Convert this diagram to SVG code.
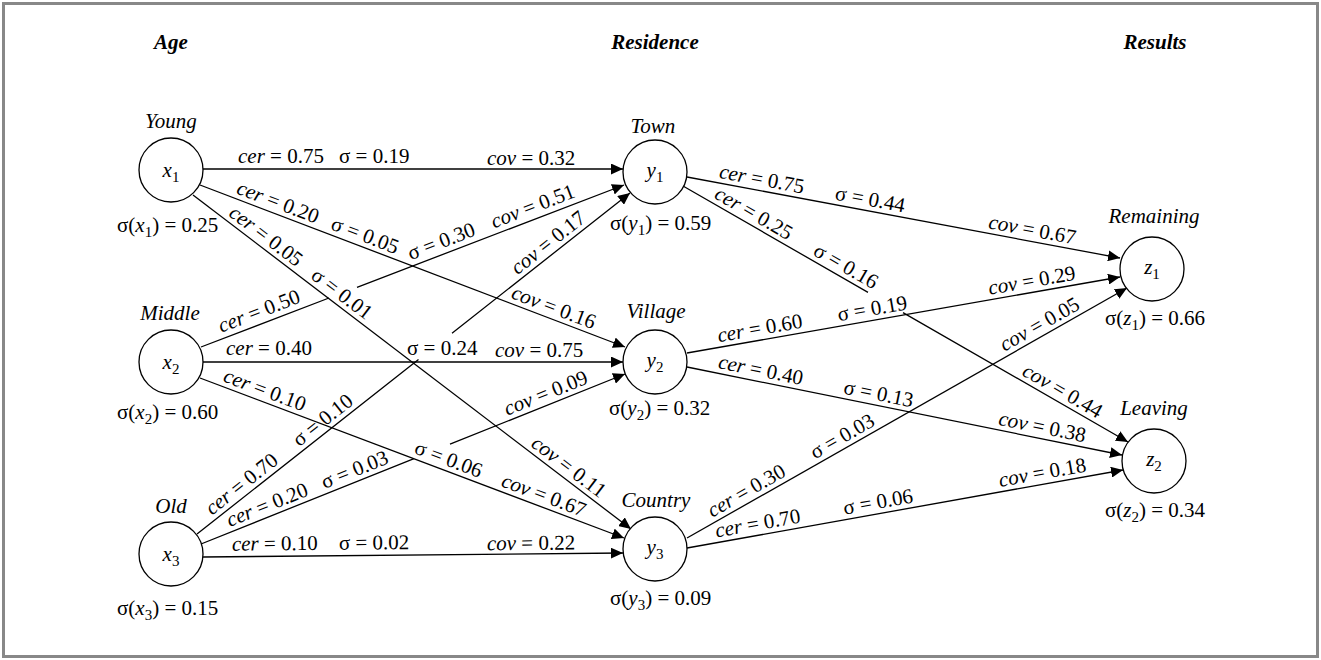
<svg xmlns="http://www.w3.org/2000/svg" xmlns:xlink="http://www.w3.org/1999/xlink" width="1321" height="660" viewBox="0 0 1321 660">
  <style>
    .t { font-family: "Liberation Serif", "Times New Roman", serif; font-size: 21px; fill: #000; }
    .i { font-style: italic; }
    .h { font-style: italic; font-weight: bold; }
    .e { fill: none; stroke: #000; stroke-width: 1.3; }
    .a { marker-end: url(#arrow); }
    .n { fill: #fff; stroke: #000; stroke-width: 1.3; }
    .s { font-size: 15px; }
  </style>
  <defs>
    <marker id="arrow" markerUnits="userSpaceOnUse" markerWidth="13" markerHeight="11" refX="12" refY="5.5" orient="auto">
      <path d="M0,0 L12,5.5 L0,11 z" fill="#000"/>
    </marker>
    <!-- guide lines for edge labels -->
    <path id="gE1" d="M203,169 L623,169"/>
    <path id="gE2" d="M200,185 L625,347"/>
    <path id="gE3" d="M193,195 L631,529"/>
    <path id="gE4" d="M201,347 L624,185"/>
    <path id="gE5" d="M203,362 L623,362"/>
    <path id="gE6" d="M200,378 L624,538"/>
    <path id="gE7" d="M197,534 L630,193"/>
    <path id="gE8" d="M201,544 L625,374"/>
    <path id="gE9" d="M203,557 L623,553"/>
    <path id="gF1" d="M687,177 L1120,258"/>
    <path id="gF2" d="M683,186 L1128,442"/>
    <path id="gF3" d="M687,353 L1120,277"/>
    <path id="gF4" d="M687,367 L1122,455"/>
    <path id="gF5" d="M687,538 L1127,288"/>
    <path id="gF6" d="M687,548 L1123,470"/>
  </defs>

  <rect x="0" y="0" width="1321" height="660" fill="#fff"/>
  <rect x="3.5" y="3.5" width="1314" height="653" fill="none" stroke="#888" stroke-width="3"/>

  <!-- column headings -->
  <g id="headings" class="t h" text-anchor="middle">
    <text x="171" y="49">Age</text>
    <text x="655" y="49">Residence</text>
    <text x="1155" y="49">Results</text>
  </g>

  <!-- connectors -->
  <g id="connectors">
    <path class="e a" d="M203,169 L623,169"/>
    <path class="e a" d="M200,185 L625,347"/>
    <path class="e a" d="M193,195 L631,529"/>
    <path class="e a" d="M201,347 L329,298 M357,287.3 L624,185"/>
    <path class="e a" d="M203,362 L623,362"/>
    <path class="e a" d="M200,378 L624,538"/>
    <path class="e a" d="M197,534 L418.5,359.6 M452,333.2 L630,193"/>
    <path class="e a" d="M201,544 L414,458.6 M450,444.2 L625,374"/>
    <path class="e a" d="M203,557 L623,553"/>
    <path class="e a" d="M687,177 L1120,258"/>
    <path class="e a" d="M683,186 L868,292.4 M903,312.6 L1128,442"/>
    <path class="e a" d="M687,353 L1120,277"/>
    <path class="e a" d="M687,367 L1122,455"/>
    <path class="e a" d="M687,538 L1127,288"/>
    <path class="e a" d="M687,548 L1123,470"/>
  </g>

  <!-- connector labels -->
  <g id="edge-labels" class="t">
    <text><textPath href="#gE1" startOffset="35"><tspan class="i" dy="-6">cer</tspan> = 0.75</textPath></text>
    <text><textPath href="#gE1" startOffset="136"><tspan dy="-6">σ = 0.19</tspan></textPath></text>
    <text><textPath href="#gE1" startOffset="284"><tspan class="i" dy="-4">cov</tspan> = 0.32</textPath></text>

    <text><textPath href="#gE2" startOffset="36"><tspan class="i" dy="-5">cer</tspan> = 0.20</textPath></text>
    <text><textPath href="#gE2" startOffset="137"><tspan dy="-5">σ = 0.05</tspan></textPath></text>
    <text><textPath href="#gE2" startOffset="330"><tspan class="i" dy="-5">cov</tspan> = 0.16</textPath></text>

    <text><textPath href="#gE3" startOffset="40"><tspan class="i" dy="-5">cer</tspan> = 0.05</textPath></text>
    <text><textPath href="#gE3" startOffset="143"><tspan dy="-5">σ = 0.01</tspan></textPath></text>
    <text><textPath href="#gE3" startOffset="420"><tspan class="i" dy="-5">cov</tspan> = 0.11</textPath></text>

    <text><textPath href="#gE4" startOffset="24"><tspan class="i" dy="-6">cer</tspan> = 0.50</textPath></text>
    <text><textPath href="#gE4" startOffset="227"><tspan dy="-6">σ = 0.30</tspan></textPath></text>
    <text><textPath href="#gE4" startOffset="316"><tspan class="i" dy="-6">cov</tspan> = 0.51</textPath></text>

    <text><textPath href="#gE5" startOffset="23"><tspan class="i" dy="-7">cer</tspan> = 0.40</textPath></text>
    <text><textPath href="#gE5" startOffset="204"><tspan dy="-7">σ = 0.24</tspan></textPath></text>
    <text><textPath href="#gE5" startOffset="292"><tspan class="i" dy="-5">cov</tspan> = 0.75</textPath></text>

    <text><textPath href="#gE6" startOffset="22"><tspan class="i" dy="-5">cer</tspan> = 0.10</textPath></text>
    <text><textPath href="#gE6" startOffset="226"><tspan dy="-5">σ = 0.06</tspan></textPath></text>
    <text><textPath href="#gE6" startOffset="319"><tspan class="i" dy="-5">cov</tspan> = 0.67</textPath></text>

    <text><textPath href="#gE7" startOffset="23"><tspan class="i" dy="-5">cer</tspan> = 0.70</textPath></text>
    <text><textPath href="#gE7" startOffset="134"><tspan dy="-5">σ = 0.10</tspan></textPath></text>
    <text><textPath href="#gE7" startOffset="412"><tspan class="i" dy="-5">cov</tspan> = 0.17</textPath></text>

    <text><textPath href="#gE8" startOffset="33"><tspan class="i" dy="-5">cer</tspan> = 0.20</textPath></text>
    <text><textPath href="#gE8" startOffset="135"><tspan dy="-5">σ = 0.03</tspan></textPath></text>
    <text><textPath href="#gE8" startOffset="332"><tspan class="i" dy="-5">cov</tspan> = 0.09</textPath></text>

    <text><textPath href="#gE9" startOffset="29"><tspan class="i" dy="-6">cer</tspan> = 0.10</textPath></text>
    <text><textPath href="#gE9" startOffset="136"><tspan dy="-6">σ = 0.02</tspan></textPath></text>
    <text><textPath href="#gE9" startOffset="284"><tspan class="i" dy="-4">cov</tspan> = 0.22</textPath></text>

    <text><textPath href="#gF1" startOffset="31"><tspan class="i" dy="-5">cer</tspan> = 0.75</textPath></text>
    <text><textPath href="#gF1" startOffset="149"><tspan dy="-5">σ = 0.44</tspan></textPath></text>
    <text><textPath href="#gF1" startOffset="305"><tspan class="i" dy="-5">cov</tspan> = 0.67</textPath></text>

    <text><textPath href="#gF2" startOffset="32"><tspan class="i" dy="-5">cer</tspan> = 0.25</textPath></text>
    <text><textPath href="#gF2" startOffset="146"><tspan dy="-5">σ = 0.16</tspan></textPath></text>
    <text><textPath href="#gF2" startOffset="387"><tspan class="i" dy="-5">cov</tspan> = 0.44</textPath></text>

    <text><textPath href="#gF3" startOffset="33"><tspan class="i" dy="-5">cer</tspan> = 0.60</textPath></text>
    <text><textPath href="#gF3" startOffset="155"><tspan dy="-5">σ = 0.19</tspan></textPath></text>
    <text><textPath href="#gF3" startOffset="308"><tspan class="i" dy="-5">cov</tspan> = 0.29</textPath></text>

    <text><textPath href="#gF4" startOffset="30"><tspan class="i" dy="-5">cer</tspan> = 0.40</textPath></text>
    <text><textPath href="#gF4" startOffset="158"><tspan dy="-5">σ = 0.13</tspan></textPath></text>
    <text><textPath href="#gF4" startOffset="316"><tspan class="i" dy="-5">cov</tspan> = 0.38</textPath></text>

    <text><textPath href="#gF5" startOffset="32"><tspan class="i" dy="-5">cer</tspan> = 0.30</textPath></text>
    <text><textPath href="#gF5" startOffset="150"><tspan dy="-5">σ = 0.03</tspan></textPath></text>
    <text><textPath href="#gF5" startOffset="368"><tspan class="i" dy="-5">cov</tspan> = 0.05</textPath></text>

    <text><textPath href="#gF6" startOffset="31"><tspan class="i" dy="-5">cer</tspan> = 0.70</textPath></text>
    <text><textPath href="#gF6" startOffset="161"><tspan dy="-5">σ = 0.06</tspan></textPath></text>
    <text><textPath href="#gF6" startOffset="319"><tspan class="i" dy="-5">cov</tspan> = 0.18</textPath></text>
  </g>

  <!-- nodes -->
  <g id="node-x1">
    <circle class="n" cx="171" cy="170" r="32"/>
    <text class="t" x="171" y="177" text-anchor="middle"><tspan class="i">x</tspan><tspan class="s" dy="5">1</tspan></text>
    <text class="t i" x="171" y="128" text-anchor="middle">Young</text>
    <text class="t" x="117" y="232">σ(<tspan class="i">x</tspan><tspan class="s" dy="5">1</tspan><tspan dy="-5">) = 0.25</tspan></text>
  </g>
  <g id="node-x2">
    <circle class="n" cx="171" cy="362" r="32"/>
    <text class="t" x="171" y="369" text-anchor="middle"><tspan class="i">x</tspan><tspan class="s" dy="5">2</tspan></text>
    <text class="t i" x="170" y="320" text-anchor="middle">Middle</text>
    <text class="t" x="117" y="419">σ(<tspan class="i">x</tspan><tspan class="s" dy="5">2</tspan><tspan dy="-5">) = 0.60</tspan></text>
  </g>
  <g id="node-x3">
    <circle class="n" cx="171" cy="554" r="32"/>
    <text class="t" x="171" y="561" text-anchor="middle"><tspan class="i">x</tspan><tspan class="s" dy="5">3</tspan></text>
    <text class="t i" x="171" y="513" text-anchor="middle">Old</text>
    <text class="t" x="117" y="615">σ(<tspan class="i">x</tspan><tspan class="s" dy="5">3</tspan><tspan dy="-5">) = 0.15</tspan></text>
  </g>
  <g id="node-y1">
    <circle class="n" cx="655" cy="172" r="32"/>
    <text class="t" x="655" y="177" text-anchor="middle"><tspan class="i">y</tspan><tspan class="s" dy="5">1</tspan></text>
    <text class="t i" x="653" y="133" text-anchor="middle">Town</text>
    <text class="t" x="610" y="230">σ(<tspan class="i">y</tspan><tspan class="s" dy="5">1</tspan><tspan dy="-5">) = 0.59</tspan></text>
  </g>
  <g id="node-y2">
    <circle class="n" cx="655" cy="362" r="32"/>
    <text class="t" x="655" y="367" text-anchor="middle"><tspan class="i">y</tspan><tspan class="s" dy="5">2</tspan></text>
    <text class="t i" x="656" y="318" text-anchor="middle">Village</text>
    <text class="t" x="609" y="415">σ(<tspan class="i">y</tspan><tspan class="s" dy="5">2</tspan><tspan dy="-5">) = 0.32</tspan></text>
  </g>
  <g id="node-y3">
    <circle class="n" cx="655" cy="549" r="32"/>
    <text class="t" x="655" y="554" text-anchor="middle"><tspan class="i">y</tspan><tspan class="s" dy="5">3</tspan></text>
    <text class="t i" x="656" y="507" text-anchor="middle">Country</text>
    <text class="t" x="610" y="605">σ(<tspan class="i">y</tspan><tspan class="s" dy="5">3</tspan><tspan dy="-5">) = 0.09</tspan></text>
  </g>
  <g id="node-z1">
    <circle class="n" cx="1152" cy="269" r="32"/>
    <text class="t" x="1152" y="274" text-anchor="middle"><tspan class="i">z</tspan><tspan class="s" dy="5">1</tspan></text>
    <text class="t i" x="1154" y="223" text-anchor="middle">Remaining</text>
    <text class="t" x="1105" y="325">σ(<tspan class="i">z</tspan><tspan class="s" dy="5">1</tspan><tspan dy="-5">) = 0.66</tspan></text>
  </g>
  <g id="node-z2">
    <circle class="n" cx="1154" cy="461" r="32"/>
    <text class="t" x="1154" y="466" text-anchor="middle"><tspan class="i">z</tspan><tspan class="s" dy="5">2</tspan></text>
    <text class="t i" x="1154" y="415" text-anchor="middle">Leaving</text>
    <text class="t" x="1105" y="517">σ(<tspan class="i">z</tspan><tspan class="s" dy="5">2</tspan><tspan dy="-5">) = 0.34</tspan></text>
  </g>
</svg>
